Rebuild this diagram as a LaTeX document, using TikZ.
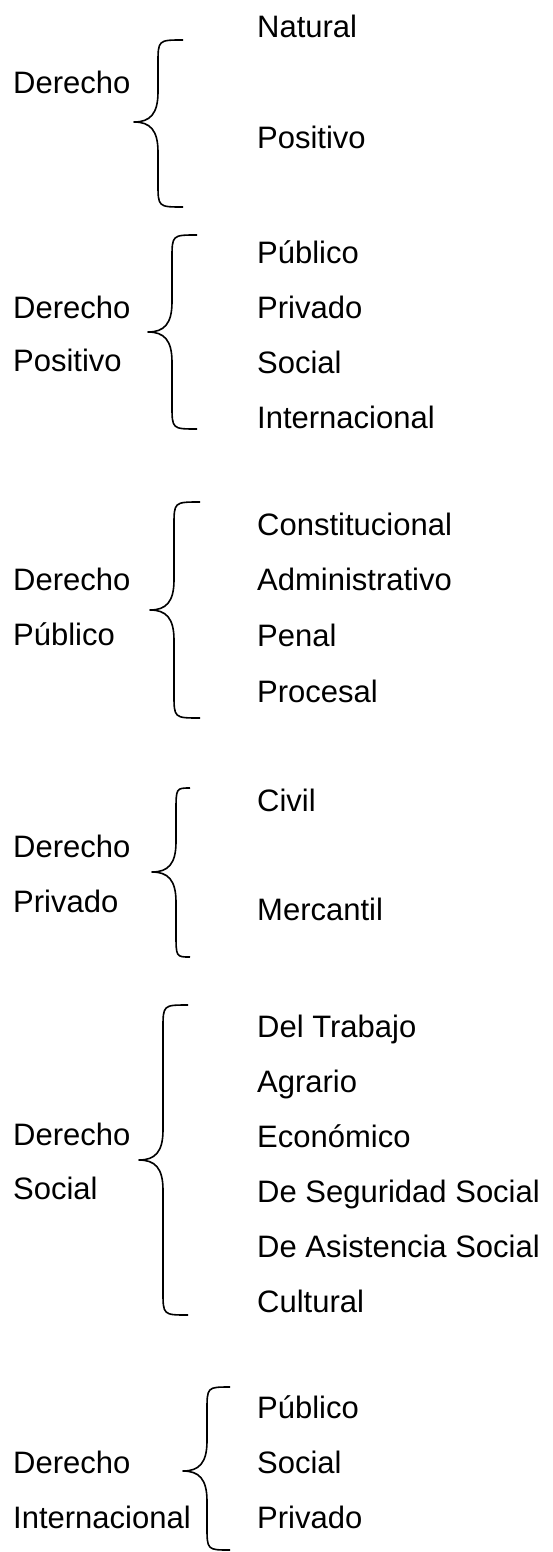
\documentclass[tikz,border=0pt]{standalone}
\usepackage{fontspec}
\setmainfont{Liberation Sans}
\newcommand\drawbrace[5]{% #1 end x, #2 vertical x, #3 top y, #4 tip y, #5 bottom y
  \draw[bracestyle] (#1,#3) .. controls (#2,#3) .. (#2,#3+24) -- (#2,#4-30)
     .. controls (#2,#4-8) and (#2-8,#4) .. (#2-24,#4) .. controls (#2-8,#4) and (#2,#4+8) .. (#2,#4+30)
     -- (#2,#5-24) .. controls (#2,#5) .. (#1,#5);}
\begin{document}
\begin{tikzpicture}[x=1pt,y=-1pt,
  lbl/.style={anchor=base west,inner sep=0pt,font=\fontsize{31}{37}\selectfont},
  bracestyle/.style={line width=1.6pt,line join=round,black}]
\useasboundingbox (0,0) rectangle (553,1552);
\fill[white] (0,0) rectangle (553,1552);
% Block 1
\node[lbl] (d1) at (13,94) {Derecho};
\node[lbl] (n1a) at (257,38) {Natural};
\node[lbl] (n1b) at (257,148) {Positivo};
\drawbrace{183}{158}{40}{122}{207}
% Block 2
\node[lbl] (d2) at (13,318) {Derecho};
\node[lbl] (d2b) at (13,371) {Positivo};
\node[lbl] (n2a) at (257,263) {Público};
\node[lbl] (n2b) at (257,318) {Privado};
\node[lbl] (n2c) at (257,373) {Social};
\node[lbl] (n2d) at (257,428) {Internacional};
\drawbrace{197}{172}{235}{332}{429}
% Block 3
\node[lbl] (d3) at (13,590) {Derecho};
\node[lbl] (d3b) at (13,645) {Público};
\node[lbl] (n3a) at (257,535) {Constitucional};
\node[lbl] (n3b) at (257,590) {Administrativo};
\node[lbl] (n3c) at (257,646) {Penal};
\node[lbl] (n3d) at (257,702) {Procesal};
\drawbrace{200}{174}{502}{610}{718}
% Block 4
\node[lbl] (d4) at (13,857) {Derecho};
\node[lbl] (d4b) at (13,912) {Privado};
\node[lbl] (n4a) at (257,811) {Civil};
\node[lbl] (n4b) at (257,920) {Mercantil};
\drawbrace{190}{176}{788}{872}{957}
% Block 5
\node[lbl] (d5) at (13,1145) {Derecho};
\node[lbl] (d5b) at (13,1199) {Social};
\node[lbl] (n5a) at (257,1037) {Del Trabajo};
\node[lbl] (n5b) at (257,1092) {Agrario};
\node[lbl] (n5c) at (257,1147) {Económico};
\node[lbl] (n5d) at (257,1202) {De Seguridad Social};
\node[lbl] (n5e) at (257,1257) {De Asistencia Social};
\node[lbl] (n5f) at (257,1312) {Cultural};
\drawbrace{188}{163}{1005}{1160}{1315}
% Block 6
\node[lbl] (d6) at (13,1473) {Derecho};
\node[lbl] (d6b) at (13,1528) {Internacional};
\node[lbl] (n6a) at (257,1418) {Público};
\node[lbl] (n6b) at (257,1473) {Social};
\node[lbl] (n6c) at (257,1528) {Privado};
\drawbrace{230}{207}{1387}{1471}{1550}
\end{tikzpicture}
\end{document}
